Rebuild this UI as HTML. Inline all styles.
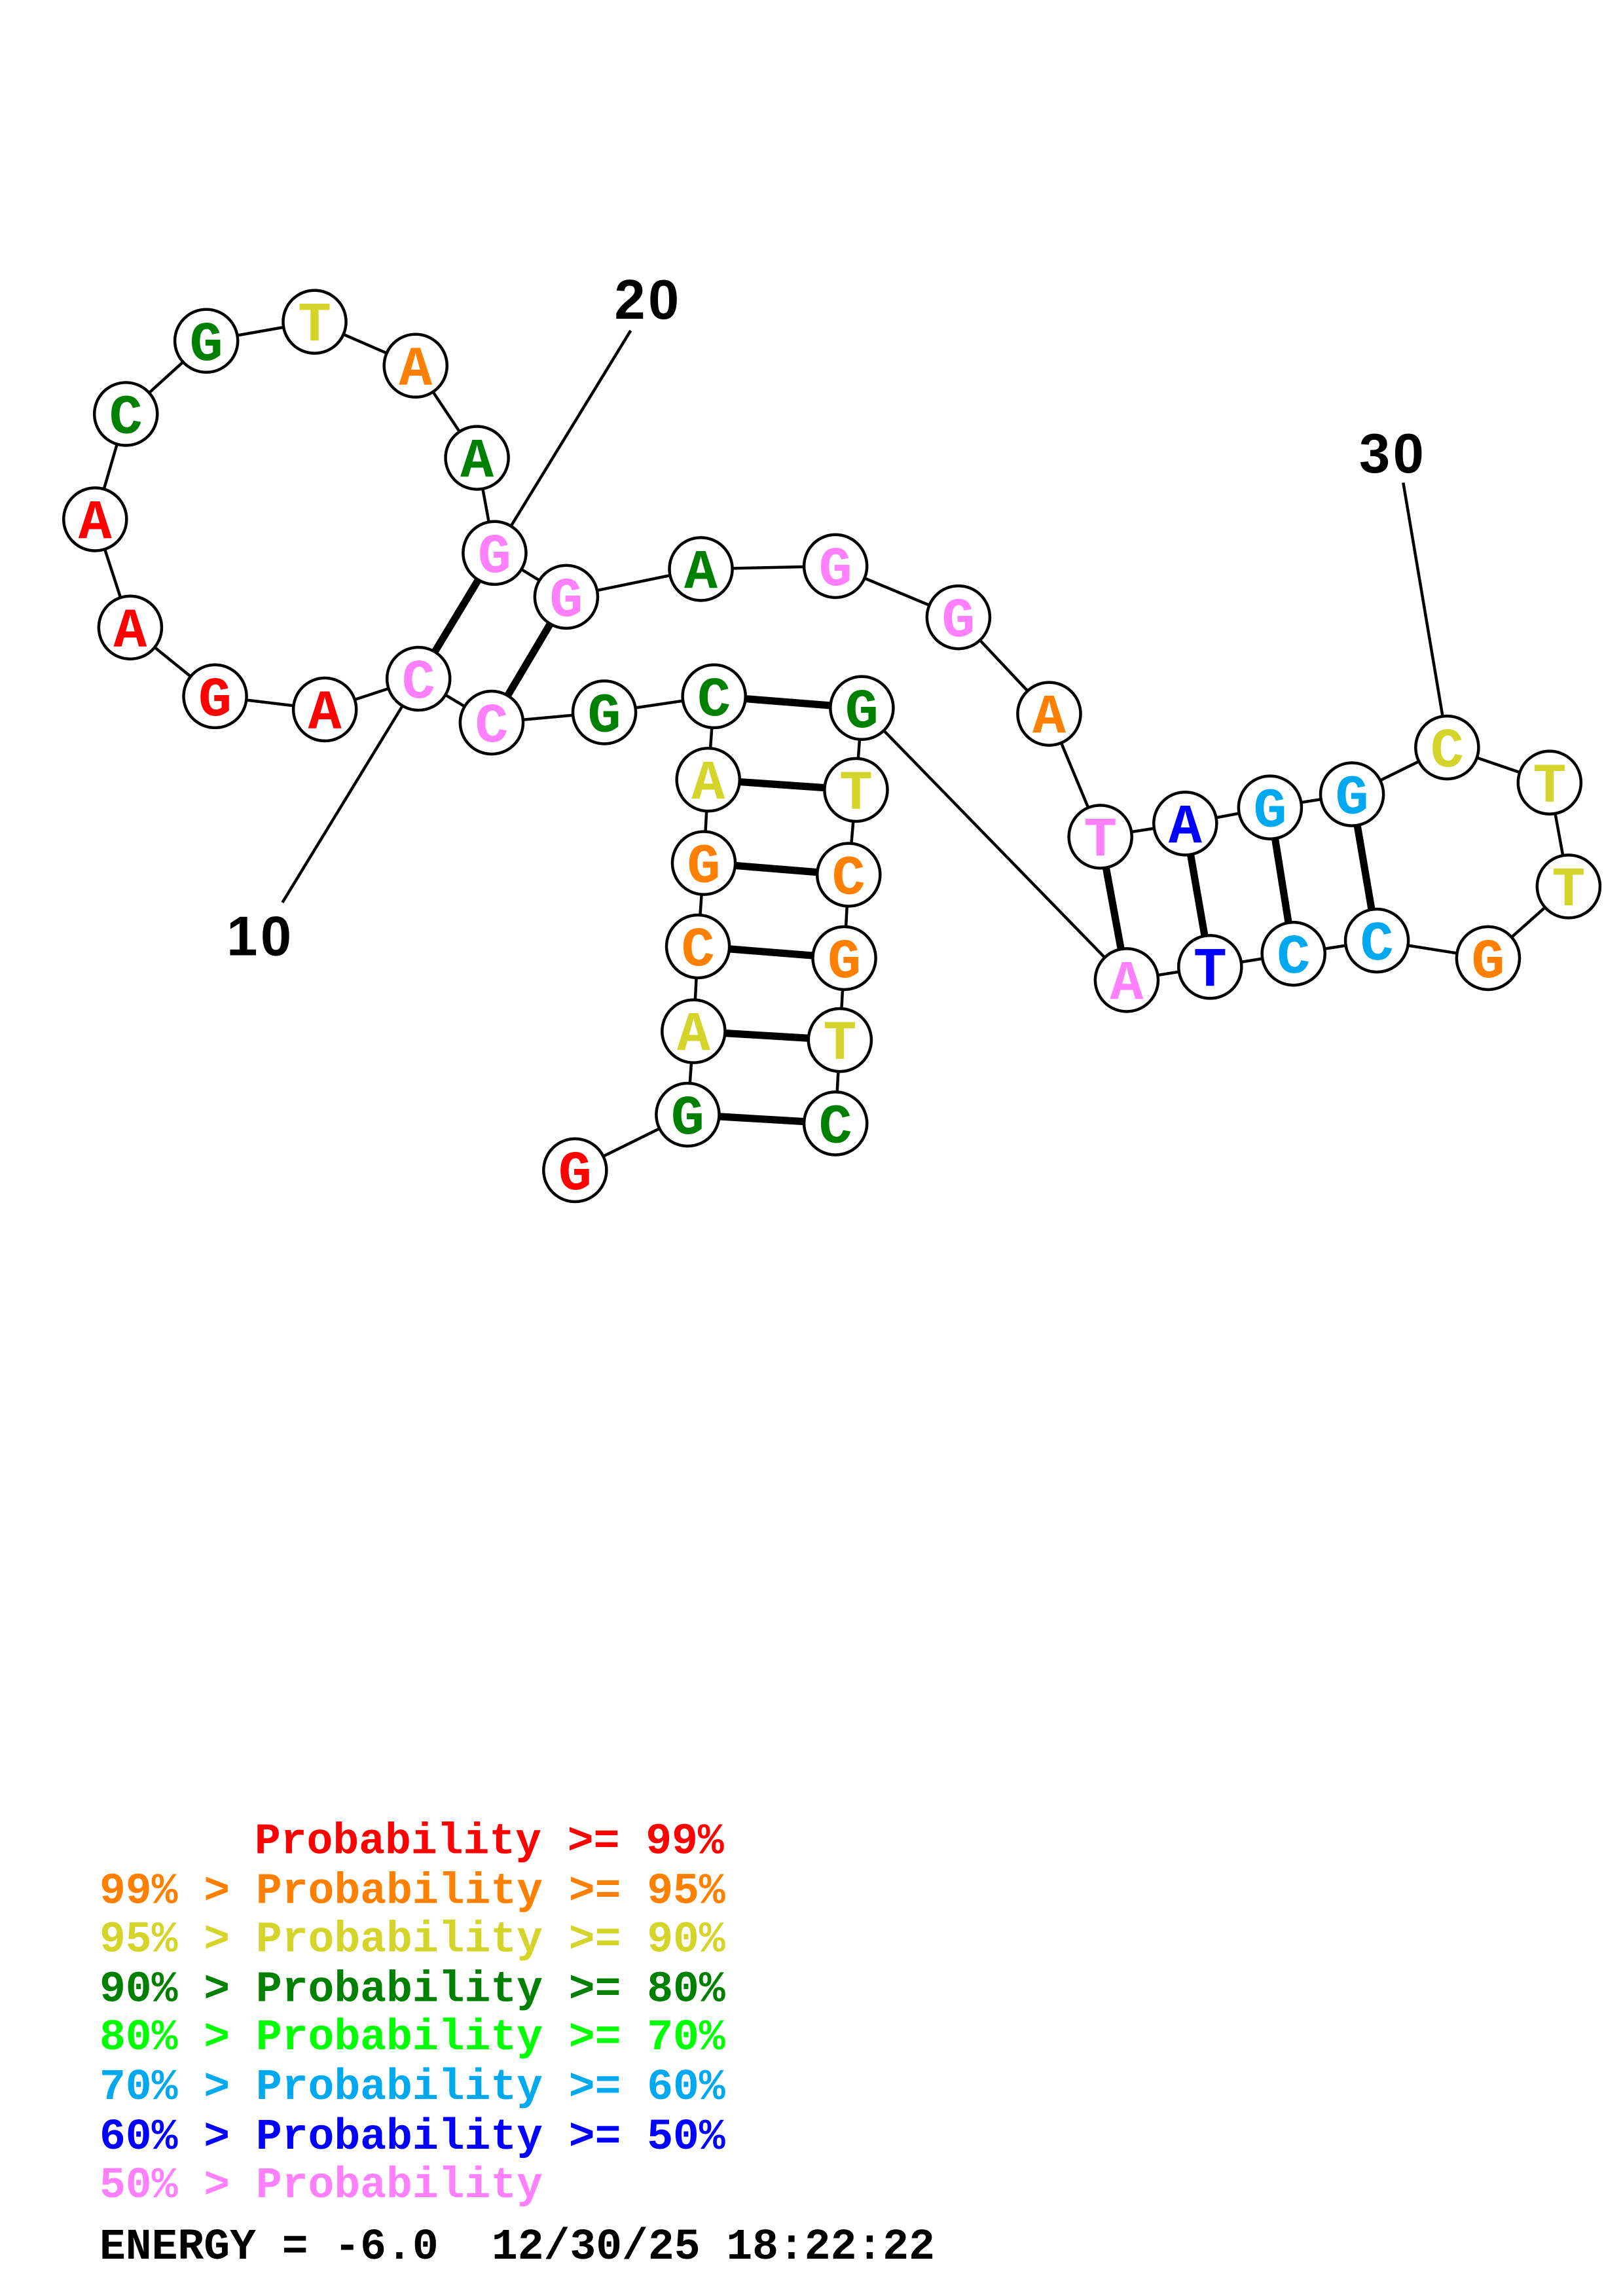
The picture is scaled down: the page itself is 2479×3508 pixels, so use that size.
<!DOCTYPE html>
<html><head><meta charset="utf-8"><style>html,body{margin:0;padding:0;background:#fff}svg{display:block}.pre text{white-space:pre}</style></head>
<body>
<svg xmlns="http://www.w3.org/2000/svg" width="2479" height="3508" viewBox="0 0 1109.2 1569.6" preserveAspectRatio="none">
<rect width="1109.2" height="1569.6" fill="#fff"/>
<g stroke="#000" stroke-width="2" fill="none">
<polyline points="393,800 470,762 474,705 477,647 481,590 484,533 488,476 413,487 336,494 286,464 222,485 147,476 89,429 65,355 86,283 141,233 215,220 284,250 326,313 338,378 387,408 479,389 571,387 655,422 717,488 752,572 810,563 868,552 924,543 989,511 1059,535 1072,606 1017,655 941,643 884,652 827,661 770,670 589,484 585,540 580,598 577,655 574,711 571,768"/>
<line x1="431" y1="226" x2="349" y2="360"/>
<line x1="193" y1="617" x2="276" y2="481"/>
<line x1="959" y1="330" x2="986" y2="490"/>
</g>
<g stroke="#000" stroke-width="5">
<line x1="470" y1="762" x2="571" y2="768"/>
<line x1="474" y1="705" x2="574" y2="711"/>
<line x1="477" y1="647" x2="577" y2="655"/>
<line x1="481" y1="590" x2="580" y2="598"/>
<line x1="484" y1="533" x2="585" y2="540"/>
<line x1="488" y1="476" x2="589" y2="484"/>
<line x1="336" y1="494" x2="387" y2="408"/>
<line x1="286" y1="464" x2="338" y2="378"/>
<line x1="752" y1="572" x2="770" y2="670"/>
<line x1="810" y1="563" x2="827" y2="661"/>
<line x1="868" y1="552" x2="884" y2="652"/>
<line x1="924" y1="543" x2="941" y2="643"/>
</g>
<g stroke="#000" stroke-width="2" fill="#fff">
<circle cx="393" cy="800" r="21.5"/><circle cx="470" cy="762" r="21.5"/><circle cx="474" cy="705" r="21.5"/><circle cx="477" cy="647" r="21.5"/><circle cx="481" cy="590" r="21.5"/><circle cx="484" cy="533" r="21.5"/><circle cx="488" cy="476" r="21.5"/><circle cx="413" cy="487" r="21.5"/><circle cx="336" cy="494" r="21.5"/><circle cx="286" cy="464" r="21.5"/><circle cx="222" cy="485" r="21.5"/><circle cx="147" cy="476" r="21.5"/><circle cx="89" cy="429" r="21.5"/><circle cx="65" cy="355" r="21.5"/><circle cx="86" cy="283" r="21.5"/><circle cx="141" cy="233" r="21.5"/><circle cx="215" cy="220" r="21.5"/><circle cx="284" cy="250" r="21.5"/><circle cx="326" cy="313" r="21.5"/><circle cx="338" cy="378" r="21.5"/><circle cx="387" cy="408" r="21.5"/><circle cx="479" cy="389" r="21.5"/><circle cx="571" cy="387" r="21.5"/><circle cx="655" cy="422" r="21.5"/><circle cx="717" cy="488" r="21.5"/><circle cx="752" cy="572" r="21.5"/><circle cx="810" cy="563" r="21.5"/><circle cx="868" cy="552" r="21.5"/><circle cx="924" cy="543" r="21.5"/><circle cx="989" cy="511" r="21.5"/><circle cx="1059" cy="535" r="21.5"/><circle cx="1072" cy="606" r="21.5"/><circle cx="1017" cy="655" r="21.5"/><circle cx="941" cy="643" r="21.5"/><circle cx="884" cy="652" r="21.5"/><circle cx="827" cy="661" r="21.5"/><circle cx="770" cy="670" r="21.5"/><circle cx="589" cy="484" r="21.5"/><circle cx="585" cy="540" r="21.5"/><circle cx="580" cy="598" r="21.5"/><circle cx="577" cy="655" r="21.5"/><circle cx="574" cy="711" r="21.5"/><circle cx="571" cy="768" r="21.5"/>
</g>
<g font-family="Liberation Mono, monospace" font-weight="bold" font-size="38" text-anchor="middle">
<text x="393" y="813" fill="#f00">G</text>
<text x="470" y="775" fill="#008000">G</text>
<text x="474" y="718" fill="#d4d42a">A</text>
<text x="477" y="660" fill="#ff8000">C</text>
<text x="481" y="603" fill="#ff8000">G</text>
<text x="484" y="546" fill="#d4d42a">A</text>
<text x="488" y="489" fill="#008000">C</text>
<text x="413" y="500" fill="#008000">G</text>
<text x="336" y="507" fill="#ff80ff">C</text>
<text x="286" y="477" fill="#ff80ff">C</text>
<text x="222" y="498" fill="#f00">A</text>
<text x="147" y="489" fill="#f00">G</text>
<text x="89" y="442" fill="#f00">A</text>
<text x="65" y="368" fill="#f00">A</text>
<text x="86" y="296" fill="#008000">C</text>
<text x="141" y="246" fill="#008000">G</text>
<text x="215" y="233" fill="#d4d42a">T</text>
<text x="284" y="263" fill="#ff8000">A</text>
<text x="326" y="326" fill="#008000">A</text>
<text x="338" y="391" fill="#ff80ff">G</text>
<text x="387" y="421" fill="#ff80ff">G</text>
<text x="479" y="402" fill="#008000">A</text>
<text x="571" y="400" fill="#ff80ff">G</text>
<text x="655" y="435" fill="#ff80ff">G</text>
<text x="717" y="501" fill="#ff8000">A</text>
<text x="752" y="585" fill="#ff80ff">T</text>
<text x="810" y="576" fill="#0000ff">A</text>
<text x="868" y="565" fill="#00a8f0">G</text>
<text x="924" y="556" fill="#00a8f0">G</text>
<text x="989" y="524" fill="#d4d42a">C</text>
<text x="1059" y="548" fill="#d4d42a">T</text>
<text x="1072" y="619" fill="#d4d42a">T</text>
<text x="1017" y="668" fill="#ff8000">G</text>
<text x="941" y="656" fill="#00a8f0">C</text>
<text x="884" y="665" fill="#00a8f0">C</text>
<text x="827" y="674" fill="#0000ff">T</text>
<text x="770" y="683" fill="#ff80ff">A</text>
<text x="589" y="497" fill="#008000">G</text>
<text x="585" y="553" fill="#d4d42a">T</text>
<text x="580" y="611" fill="#ff8000">C</text>
<text x="577" y="668" fill="#ff8000">G</text>
<text x="574" y="724" fill="#d4d42a">T</text>
<text x="571" y="781" fill="#008000">C</text>
</g>
<g font-family="Liberation Sans, sans-serif" font-weight="bold" font-size="38" text-anchor="middle" fill="#000" letter-spacing="2">
<text x="443" y="218">20</text>
<text x="178" y="653">10</text>
<text x="952" y="323">30</text>
</g>
<g class="pre" font-family="Liberation Mono, monospace" font-weight="bold" font-size="29.7">
<text x="174" y="1267" fill="#f00">Probability &gt;= 99%</text>
<text x="68" y="1301" fill="#ff8000">99% &gt; Probability &gt;= 95%</text>
<text x="68" y="1334" fill="#d4d42a">95% &gt; Probability &gt;= 90%</text>
<text x="68" y="1368" fill="#008000">90% &gt; Probability &gt;= 80%</text>
<text x="68" y="1401" fill="#00ff00">80% &gt; Probability &gt;= 70%</text>
<text x="68" y="1435" fill="#00a8f0">70% &gt; Probability &gt;= 60%</text>
<text x="68" y="1469" fill="#0000ff">60% &gt; Probability &gt;= 50%</text>
<text x="68" y="1502" fill="#ff80ff">50% &gt; Probability</text>
<text x="68" y="1544" fill="#000">ENERGY = -6.0 <tspan x="336">12/30/25 18:22:22</tspan></text>
</g>
</svg>
</body></html>
